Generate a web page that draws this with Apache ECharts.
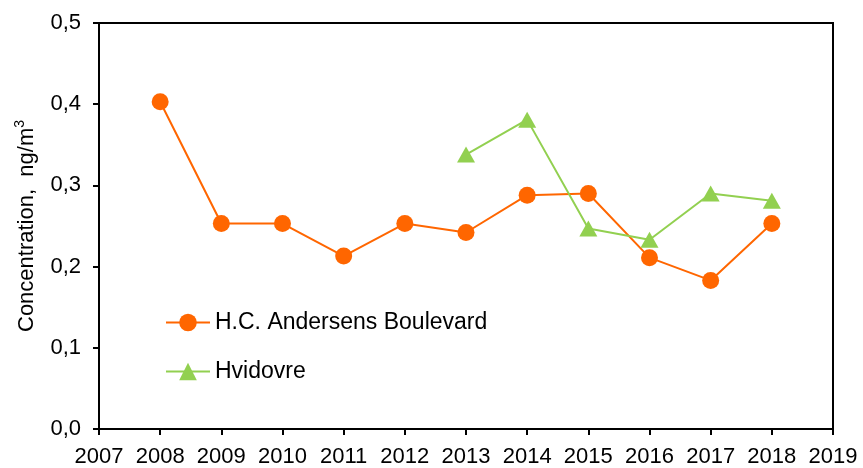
<!DOCTYPE html>
<html>
<head>
<meta charset="utf-8">
<script src="https://cdn.jsdelivr.net/npm/echarts@6/dist/echarts.min.js"></script>
<style>
  html, body { margin: 0; padding: 0; background: #fff; }
  #chart { width: 863px; height: 468px; }
</style>
</head>
<body>
<div id="chart"></div>
<script>
  // values
  var hcaYears = [2008, 2009, 2010, 2011, 2012, 2013, 2014, 2015, 2016, 2017, 2018]
  var hcaValues = [0.403, 0.253, 0.253, 0.213, 0.253, 0.242, 0.288, 0.290, 0.211, 0.183, 0.253]
  var hvidovreYears = [2013, 2014, 2015, 2016, 2017, 2018]
  var hvidovreValues = [0.338, 0.381, 0.247, 0.233, 0.290, 0.281]

  var font = '"Liberation Sans", Arial, sans-serif'

  function pairs(xs, ys) {
    return xs.map(function (x, i) { return [x, ys[i]] })
  }

  var chart = echarts.init(document.getElementById('chart'), null, { renderer: 'canvas' })
  chart.setOption({
    backgroundColor: '#fff',
    animation: false,
    textStyle: { fontFamily: font, color: '#000' },
    grid: {
      left: 99, right: 30, top: 23, bottom: 39,
      show: true, borderColor: '#000', borderWidth: 2
    },
    legend: {
      orient: 'vertical',
      left: 165, top: 311, padding: 0,
      itemWidth: 44, itemHeight: 22, itemGap: 26,
      textStyle: { fontSize: 23, color: '#000', fontFamily: font },
      data: ['H.C. Andersens Boulevard', 'Hvidovre']
    },
    xAxis: {
      type: 'value',
      min: 2007, max: 2019, interval: 1,
      splitLine: { show: false },
      axisLine: { lineStyle: { color: '#000', width: 2 } },
      axisTick: { length: 6, lineStyle: { color: '#000', width: 2 } },
      axisLabel: {
        fontSize: 22, color: '#000', margin: 17, fontFamily: font,
        formatter: function (v) { return String(v) }
      }
    },
    yAxis: {
      type: 'value',
      min: 0, max: 0.5, interval: 0.1,
      splitLine: { show: false },
      axisLine: { show: true, lineStyle: { color: '#000', width: 2 } },
      axisTick: { show: true, length: 6, lineStyle: { color: '#000', width: 2 } },
      axisLabel: {
        fontSize: 22, color: '#000', margin: 18, fontFamily: font,
        formatter: function (v) { return v.toFixed(1).replace('.', ',') }
      },
      name: '{b|Concentration,  ng/m}{sup|3}',
      nameLocation: 'middle',
      nameGap: 58,
      nameTextStyle: {
        rich: {
          b: { fontSize: 22, color: '#000', fontFamily: font, lineHeight: 28 },
          sup: { fontSize: 14, color: '#000', fontFamily: font, verticalAlign: 'top' }
        }
      }
    },
    series: [
      {
        name: 'H.C. Andersens Boulevard',
        type: 'line',
        data: pairs(hcaYears, hcaValues),
        symbol: 'circle',
        symbolSize: 17,
        itemStyle: { color: '#FF6600' },
        lineStyle: { color: '#FF6600', width: 2 }
      },
      {
        name: 'Hvidovre',
        type: 'line',
        data: pairs(hvidovreYears, hvidovreValues),
        symbol: 'triangle',
        symbolSize: [18, 16],
        itemStyle: { color: '#92D050' },
        lineStyle: { color: '#92D050', width: 2 }
      }
    ]
  })
</script>
</body>
</html>
